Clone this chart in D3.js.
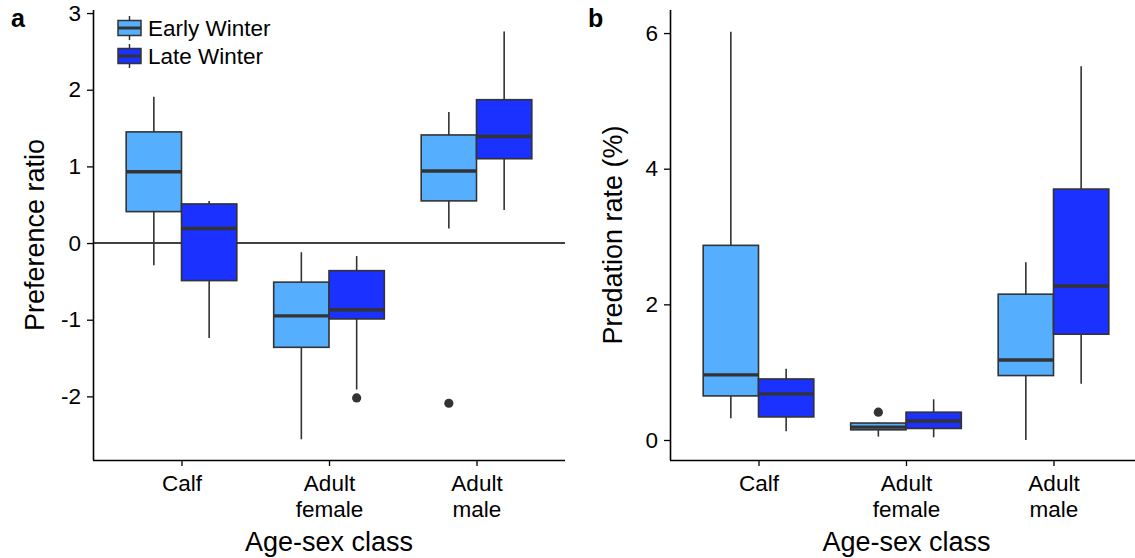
<!DOCTYPE html>
<html>
<head>
<meta charset="utf-8">
<script src="https://cdn.jsdelivr.net/npm/d3@7"></script>
<style>
  html, body { margin: 0; padding: 0; background: #fff; }
  svg { display: block; font-family: "Liberation Sans", Arial, Helvetica, sans-serif; }
</style>
</head>
<body>
<svg id="chart" width="1135" height="558"></svg>
<script>
// ---------- DATA ----------
const categories = ["Calf", "Adult female", "Adult male"];
const categoryLabels = [["Calf"], ["Adult", "female"], ["Adult", "male"]];
const seasons = ["Early Winter", "Late Winter"];
const seasonColors = ["#56AEFF", "#1A31FF"];

// box stats per category: [lower whisker, q1, median, q3, upper whisker]
const prefEarly = [
  [-0.29, 0.41, 0.93, 1.45, 1.91],
  [-2.56, -1.36, -0.95, -0.51, -0.12],
  [0.19, 0.55, 0.94, 1.41, 1.71]
];
const prefLate = [
  [-1.24, -0.49, 0.19, 0.51, 0.55],
  [-1.91, -0.99, -0.87, -0.36, -0.17],
  [0.43, 1.10, 1.39, 1.87, 2.76]
];
const prefEarlyOutliers = [[], [], [-2.09]];
const prefLateOutliers = [[], [-2.02], []];

const predEarly = [
  [0.32, 0.65, 0.96, 2.87, 6.02],
  [0.05, 0.15, 0.19, 0.25, 0.26],
  [0.00, 0.95, 1.18, 2.15, 2.62]
];
const predLate = [
  [0.13, 0.34, 0.68, 0.90, 1.05],
  [0.04, 0.17, 0.28, 0.41, 0.60],
  [0.83, 1.56, 2.27, 3.70, 5.51]
];
const predEarlyOutliers = [[], [0.41], []];
const predLateOutliers = [[], [], []];

const prefTicks = [-2, -1, 0, 1, 2, 3];
const predTicks = [0, 2, 4, 6];

// ---------- DRAW ----------
const svg = d3.select("#chart");
const plotTop = 10, plotBottom = 460;
const ink = "#333333";
const tickFont = 22.5, titleFont = 27;

function panel(opts) {
  const g = svg.append("g");
  const x = d3.scalePoint().domain(categories).range([opts.x0, opts.x1]).padding(0.6);
  const step = x.step();
  const sub = d3.scaleBand().domain(seasons).range([-0.375 * step, 0.375 * step]);
  const y = d3.scaleLinear().domain(opts.domain).range([plotBottom, plotTop]);

  if (opts.zeroLine) {
    g.append("line")
      .attr("x1", opts.x0).attr("x2", opts.x1)
      .attr("y1", y(0)).attr("y2", y(0))
      .attr("stroke", "#000").attr("stroke-width", 1.5);
  }

  const series = [
    { season: seasons[0], stats: opts.early, out: opts.earlyOut, color: seasonColors[0] },
    { season: seasons[1], stats: opts.late, out: opts.lateOut, color: seasonColors[1] }
  ];

  series.forEach(s => {
    categories.forEach((c, i) => {
      const st = s.stats[i];
      const bx = x(c) + sub(s.season);
      const bw = sub.bandwidth();
      const cx = bx + bw / 2;
      g.append("line").attr("x1", cx).attr("x2", cx)
        .attr("y1", y(st[3])).attr("y2", y(st[4]))
        .attr("stroke", ink).attr("stroke-width", 1.6);
      g.append("line").attr("x1", cx).attr("x2", cx)
        .attr("y1", y(st[0])).attr("y2", y(st[1]))
        .attr("stroke", ink).attr("stroke-width", 1.6);
      g.append("rect").attr("x", bx).attr("width", bw)
        .attr("y", y(st[3])).attr("height", y(st[1]) - y(st[3]))
        .attr("fill", s.color).attr("stroke", ink).attr("stroke-width", 1.6);
      g.append("line").attr("x1", bx).attr("x2", bx + bw)
        .attr("y1", y(st[2])).attr("y2", y(st[2]))
        .attr("stroke", ink).attr("stroke-width", 3.4);
      s.out[i].forEach(v => {
        g.append("circle").attr("cx", cx).attr("cy", y(v)).attr("r", 4.6).attr("fill", ink);
      });
    });
  });

  const ya = g.append("g").attr("transform", `translate(${opts.x0},0)`)
    .call(d3.axisLeft(y).tickValues(opts.ticks).tickFormat(d => String(d))
      .tickSize(6).tickPadding(6).tickSizeOuter(0));
  ya.select(".domain").attr("stroke", "#000").attr("stroke-width", 1.6)
    .attr("d", `M0.5,${plotTop}V${plotBottom}`);
  ya.selectAll(".tick line").attr("stroke", "#000").attr("stroke-width", 1.3);
  ya.selectAll(".tick text").attr("font-size", tickFont).attr("fill", "#000")
    .attr("font-family", "Liberation Sans, Arial, sans-serif");

  const xa = g.append("g").attr("transform", `translate(0,${plotBottom})`)
    .call(d3.axisBottom(x).tickSize(6).tickPadding(6).tickSizeOuter(0));
  xa.select(".domain").attr("stroke", "#000").attr("stroke-width", 1.6)
    .attr("d", `M${opts.x0},0.5H${opts.x1}`);
  xa.selectAll(".tick line").attr("stroke", "#000").attr("stroke-width", 1.3);
  xa.selectAll(".tick text").each(function(d, i) {
    const t = d3.select(this);
    t.text(null).attr("font-size", tickFont).attr("fill", "#000")
      .attr("font-family", "Liberation Sans, Arial, sans-serif").attr("dy", null).attr("y", 31);
    categoryLabels[i].forEach((line, k) => {
      t.append("tspan").attr("x", 0).attr("y", 31 + k * 26).text(line);
    });
  });

  svg.append("text").attr("x", (opts.x0 + Math.min(opts.x1, 1135)) / 2 + opts.xTitleShift).attr("y", 551)
    .attr("text-anchor", "middle").attr("font-size", titleFont).attr("fill", "#000").text("Age-sex class");
  svg.append("text").attr("transform", `translate(${opts.yTitleX},${(plotTop + plotBottom) / 2}) rotate(-90)`)
    .attr("text-anchor", "middle").attr("font-size", titleFont).attr("fill", "#000").text(opts.yTitle);
  svg.append("text").attr("x", opts.letterX).attr("y", 27)
    .attr("font-size", 25).attr("font-weight", "bold").attr("fill", "#000").text(opts.letter);

  return { x, y };
}

panel({
  x0: 93, x1: 565, domain: [-2.83, 3.04], ticks: prefTicks,
  early: prefEarly, late: prefLate, earlyOut: prefEarlyOutliers, lateOut: prefLateOutliers,
  zeroLine: true, yTitle: "Preference ratio", yTitleX: 44, letter: "a", letterX: 11, xTitleShift: 0
});
panel({
  x0: 670, x1: 1142, domain: [-0.295, 6.34], ticks: predTicks,
  early: predEarly, late: predLate, earlyOut: predEarlyOutliers, lateOut: predLateOutliers,
  zeroLine: false, yTitle: "Predation rate (%)", yTitleX: 622, letter: "b", letterX: 588, xTitleShift: 4
});

const legend = svg.append("g");
seasons.forEach((s, i) => {
  const ky = 14 + i * 28;
  const kx = 118, kw = 23, kh = 28;
  const cx = kx + kw / 2;
  legend.append("line").attr("x1", cx).attr("x2", cx).attr("y1", ky + 2).attr("y2", ky + kh - 2)
    .attr("stroke", ink).attr("stroke-width", 1.5);
  legend.append("rect").attr("x", kx).attr("y", ky + 6.5).attr("width", kw).attr("height", 15)
    .attr("fill", seasonColors[i]).attr("stroke", ink).attr("stroke-width", 1.5);
  legend.append("line").attr("x1", kx).attr("x2", kx + kw).attr("y1", ky + 14).attr("y2", ky + 14)
    .attr("stroke", ink).attr("stroke-width", 3);
  legend.append("text").attr("x", 148).attr("y", ky + 22)
    .attr("font-size", 22.5).attr("fill", "#000").text(s);
});
</script>
</body>
</html>
